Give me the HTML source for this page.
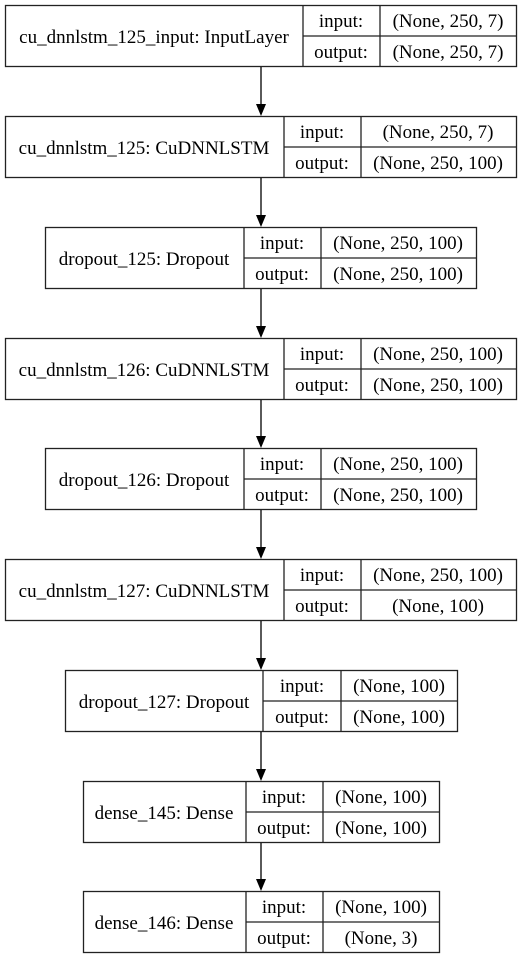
<!DOCTYPE html>
<html><head><style>body{margin:0;background:#fff}svg{display:block}text{font-family:"Liberation Serif",serif;font-size:19px;fill:#000}</style></head>
<body>
<svg width="523" height="959" viewBox="0 0 523 959" xmlns="http://www.w3.org/2000/svg">
<g fill="none" stroke="#222" stroke-width="1.3">
<rect x="5.5" y="5.5" width="511" height="61"/><line x1="303" y1="5.5" x2="303" y2="66.5"/><line x1="380" y1="5.5" x2="380" y2="66.5"/><line x1="303" y1="36" x2="516.5" y2="36"/>
<rect x="5.5" y="116.5" width="511" height="61"/><line x1="284" y1="116.5" x2="284" y2="177.5"/><line x1="361" y1="116.5" x2="361" y2="177.5"/><line x1="284" y1="147" x2="516.5" y2="147"/>
<rect x="45.5" y="227.5" width="431" height="61"/><line x1="244" y1="227.5" x2="244" y2="288.5"/><line x1="321" y1="227.5" x2="321" y2="288.5"/><line x1="244" y1="258" x2="476.5" y2="258"/>
<rect x="5.5" y="338.5" width="511" height="61"/><line x1="284" y1="338.5" x2="284" y2="399.5"/><line x1="361" y1="338.5" x2="361" y2="399.5"/><line x1="284" y1="369" x2="516.5" y2="369"/>
<rect x="45.5" y="448.5" width="431" height="61"/><line x1="244" y1="448.5" x2="244" y2="509.5"/><line x1="321" y1="448.5" x2="321" y2="509.5"/><line x1="244" y1="479" x2="476.5" y2="479"/>
<rect x="5.5" y="559.5" width="511" height="61"/><line x1="284" y1="559.5" x2="284" y2="620.5"/><line x1="361" y1="559.5" x2="361" y2="620.5"/><line x1="284" y1="590" x2="516.5" y2="590"/>
<rect x="65.5" y="670.5" width="392" height="61"/><line x1="263" y1="670.5" x2="263" y2="731.5"/><line x1="341" y1="670.5" x2="341" y2="731.5"/><line x1="263" y1="701" x2="457.5" y2="701"/>
<rect x="83.5" y="781.5" width="356" height="61"/><line x1="246" y1="781.5" x2="246" y2="842.5"/><line x1="323" y1="781.5" x2="323" y2="842.5"/><line x1="246" y1="812" x2="439.5" y2="812"/>
<rect x="83.5" y="891.5" width="356" height="61"/><line x1="246" y1="891.5" x2="246" y2="952.5"/><line x1="323" y1="891.5" x2="323" y2="952.5"/><line x1="246" y1="922" x2="439.5" y2="922"/>
</g>
<g stroke="#000" stroke-width="1.3">
<line x1="261" y1="67" x2="261" y2="104"/><line x1="261" y1="178" x2="261" y2="215"/><line x1="261" y1="289" x2="261" y2="326"/><line x1="261" y1="400" x2="261" y2="436"/><line x1="261" y1="510" x2="261" y2="547"/><line x1="261" y1="621" x2="261" y2="658"/><line x1="261" y1="732" x2="261" y2="769"/><line x1="261" y1="843" x2="261" y2="879"/>
</g>
<g fill="#000">
<polygon points="256,104 266,104 261,116"/><polygon points="256,215 266,215 261,227"/><polygon points="256,326 266,326 261,338"/><polygon points="256,436 266,436 261,448"/><polygon points="256,547 266,547 261,559"/><polygon points="256,658 266,658 261,670"/><polygon points="256,769 266,769 261,781"/><polygon points="256,879 266,879 261,891"/>
</g>
<g text-anchor="middle">
<text x="154" y="43">cu_dnnlstm_125_input: InputLayer</text><text x="341" y="27">input:</text><text x="448" y="27">(None, 250, 7)</text><text x="341" y="58">output:</text><text x="448" y="58">(None, 250, 7)</text>
<text x="144" y="154">cu_dnnlstm_125: CuDNNLSTM</text><text x="322" y="138">input:</text><text x="438" y="138">(None, 250, 7)</text><text x="322" y="169">output:</text><text x="438" y="169">(None, 250, 100)</text>
<text x="144" y="265">dropout_125: Dropout</text><text x="282" y="249">input:</text><text x="398" y="249">(None, 250, 100)</text><text x="282" y="280">output:</text><text x="398" y="280">(None, 250, 100)</text>
<text x="144" y="376">cu_dnnlstm_126: CuDNNLSTM</text><text x="322" y="360">input:</text><text x="438" y="360">(None, 250, 100)</text><text x="322" y="391">output:</text><text x="438" y="391">(None, 250, 100)</text>
<text x="144" y="486">dropout_126: Dropout</text><text x="282" y="470">input:</text><text x="398" y="470">(None, 250, 100)</text><text x="282" y="501">output:</text><text x="398" y="501">(None, 250, 100)</text>
<text x="144" y="597">cu_dnnlstm_127: CuDNNLSTM</text><text x="322" y="581">input:</text><text x="438" y="581">(None, 250, 100)</text><text x="322" y="612">output:</text><text x="438" y="612">(None, 100)</text>
<text x="164" y="708">dropout_127: Dropout</text><text x="302" y="692">input:</text><text x="399" y="692">(None, 100)</text><text x="302" y="723">output:</text><text x="399" y="723">(None, 100)</text>
<text x="164" y="819">dense_145: Dense</text><text x="284" y="803">input:</text><text x="381" y="803">(None, 100)</text><text x="284" y="834">output:</text><text x="381" y="834">(None, 100)</text>
<text x="164" y="929">dense_146: Dense</text><text x="284" y="913">input:</text><text x="381" y="913">(None, 100)</text><text x="284" y="944">output:</text><text x="381" y="944">(None, 3)</text>
</g>
</svg>
</body></html>
